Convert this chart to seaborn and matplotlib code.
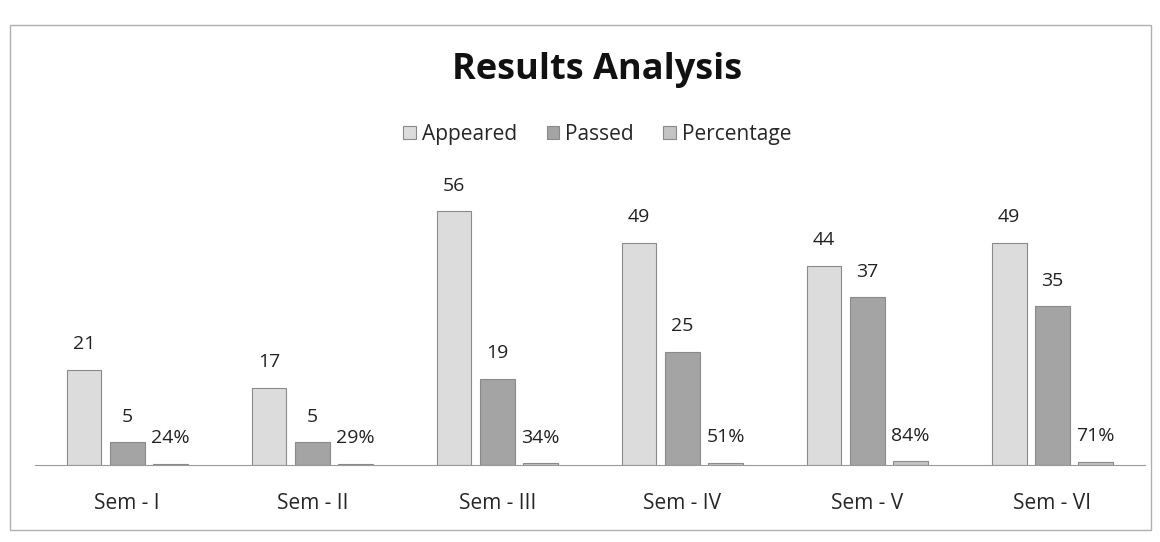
import pandas as pd
import matplotlib.pyplot as plt
import seaborn as sns
from matplotlib.patches import Rectangle

semesters = ["Sem - I", "Sem - II", "Sem - III", "Sem - IV", "Sem - V", "Sem - VI"]
appeared = [21, 17, 56, 49, 44, 49]
passed = [5, 5, 19, 25, 37, 35]
percentage = [0.24, 0.29, 0.34, 0.51, 0.84, 0.71]
series = ["Appeared", "Passed", "Percentage"]
colors = ["#dcdcdc", "#a4a4a4", "#c4c4c4"]


def main():
    df = pd.DataFrame({
        "semester": semesters * 3,
        "series": [s for s in series for _ in semesters],
        "value": appeared + passed + percentage,
    })

    sns.set_style("white")
    plt.rcParams["font.family"] = ["Open Sans", "DejaVu Sans"]

    fig = plt.figure(figsize=(11.6, 5.42), dpi=100)
    ax = fig.add_axes([0.03, 0.142, 0.957, 0.535])
    sns.barplot(data=df, x="semester", y="value", hue="series",
                palette=colors, width=0.7, gap=0.2, ax=ax,
                edgecolor="#8a8a8a", linewidth=0.8, saturation=1)

    for cont, name in zip(ax.containers, series):
        if name == "Percentage":
            labels = [f"{v:.0%}" for v in percentage]
            ax.bar_label(cont, labels=labels, padding=12, fontsize=14, color="#222222")
        else:
            ax.bar_label(cont, padding=12, fontsize=14, color="#222222")

    ax.set_ylim(0, 64)
    ax.set_yticks([])
    ax.set_xlabel("")
    ax.set_ylabel("")
    ax.tick_params(axis="x", length=0, pad=20, labelsize=15)
    for side in ["top", "left", "right"]:
        ax.spines[side].set_visible(False)
    ax.spines["bottom"].set_color("#9a9a9a")

    handles, labels = ax.get_legend_handles_labels()
    ax.legend_.remove()
    fig.legend(handles, labels, loc="center", bbox_to_anchor=(0.515, 0.752),
               ncol=3, frameon=False, fontsize=15, handlelength=0.6,
               handleheight=0.6, handletextpad=0.3, columnspacing=1.4)

    fig.text(0.515, 0.87, "Results Analysis", ha="center", va="center",
             fontsize=26, fontweight="bold", color="#111111")

    fig.patches.append(Rectangle((0.009, 0.022), 0.983, 0.932,
                                 transform=fig.transFigure, fill=False,
                                 edgecolor="#b0b0b0", linewidth=1))

    fig.savefig("out.png", dpi=100)
    plt.close(fig)


if __name__ == "__main__":
    main()
